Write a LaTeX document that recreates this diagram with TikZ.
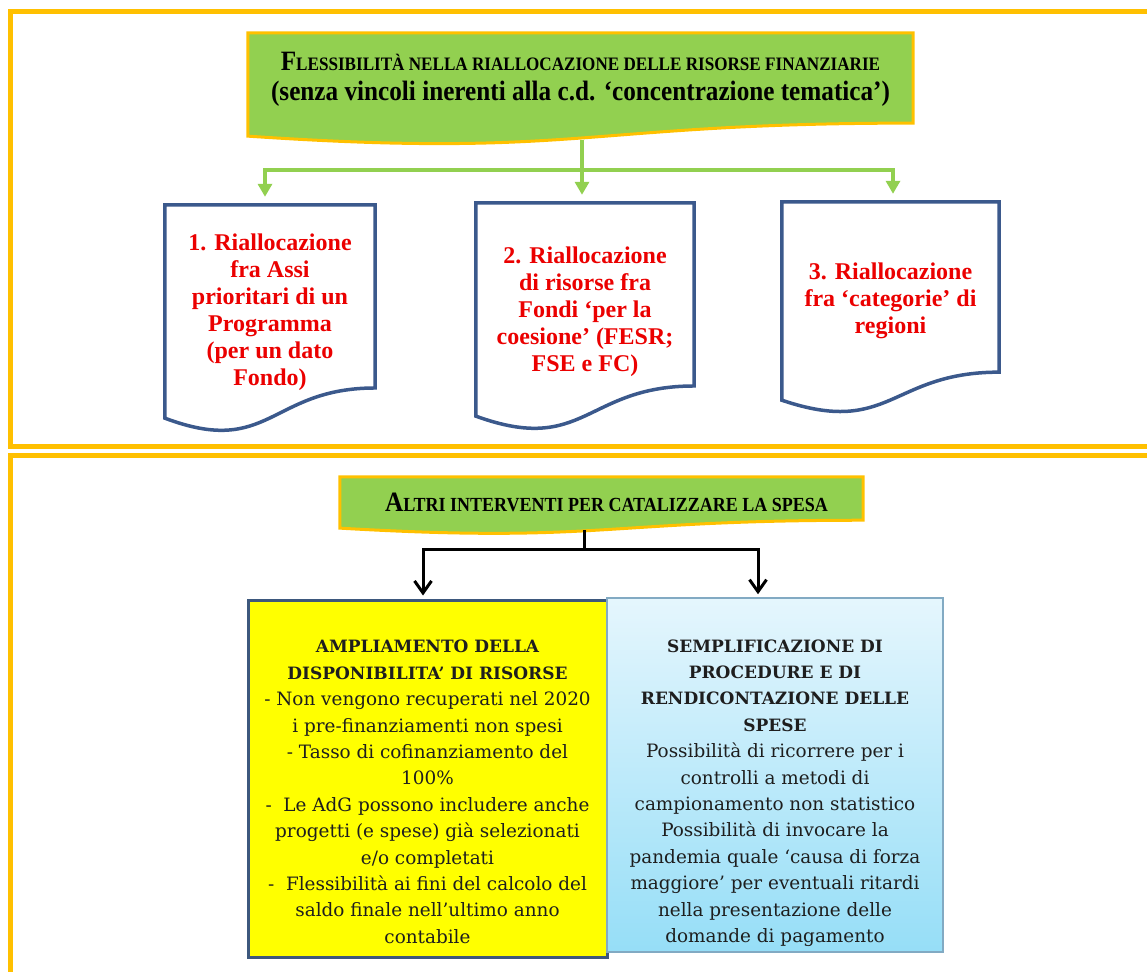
\documentclass[tikz,border=0pt]{standalone}
\usepackage{fontspec}
\setmainfont{DejaVu Serif}
\newfontfamily\redfont{Liberation Serif}
\newfontfamily\hdrfont[FakeStretch=0.9]{Liberation Serif}
\usetikzlibrary{arrows.meta, calc, backgrounds}

\definecolor{framegold}{RGB}{255, 192, 0}
\definecolor{hdrgreen}{RGB}{146, 208, 80}
\definecolor{docblue}{RGB}{59, 89, 140}
\definecolor{docred}{RGB}{235, 0, 0}
\definecolor{amplyellow}{RGB}{255, 255, 0}
\definecolor{amplborder}{RGB}{61, 88, 125}
\definecolor{skytop}{RGB}{229, 246, 253}
\definecolor{skybot}{RGB}{150, 222, 247}
\definecolor{skyborder}{RGB}{130, 170, 195}
\definecolor{bodyink}{RGB}{30, 30, 30}

% outline with a wavy bottom: node, right end, control depth, left end, style
\newcommand{\wavebottom}[5]{%
  \draw[#5] (#1.north west) -- (#1.north east)
    -- ($(#1.north east)!#2!(#1.south east)$)
    .. controls ($(#1.north)!#2!(#1.south)$) and ($(#1.north)!#3!(#1.south)$)
    .. ($(#1.north west)!#4!(#1.south west)$) -- cycle;}
% big initial, small capitals
\newcommand{\capsc}[3][19]{{\fontsize{28}{30}\selectfont #2}{\fontsize{#1}{30}\selectfont #3}}
\newcommand{\hd}[1]{{\bfseries\fontsize{17}{26.4}\selectfont #1}}

\tikzset{
  goldframe/.style={draw=framegold, line width=5pt},
  shapebox/.style={rectangle, inner sep=0pt},
  hdrtext/.style={font={\hdrfont\bfseries\fontsize{28}{30}\selectfont}, align=center},
  hdrfill/.style={fill=hdrgreen, draw=framegold, line width=3pt},
  doctext/.style={font={\redfont\bfseries\fontsize{24}{27}\selectfont}, text=docred, align=center},
  docline/.style={draw=docblue, fill=white, line width=3.5pt},
  bodytext/.style={font={\fontsize{18.4}{26.4}\selectfont}, text=bodyink, align=center},
  greenarrow/.style={draw=hdrgreen, line width=4pt, shorten <=-3pt, shorten >=8pt,
    -{Triangle[width=14pt, length=13pt]}},
  blackarrow/.style={draw=black, line width=3pt, shorten <=-3pt, shorten >=3pt,
    -{Straight Barb[width=17pt, length=12pt]}}
}

\begin{document}
\begin{tikzpicture}[x=1pt, y=-1pt]
  \useasboundingbox (0,0) rectangle (1147,971);

  % frames
  \draw[goldframe] (10,12) rectangle (1165,446);
  \draw[goldframe] (10,455) rectangle (1165,975);

  % flessibilita
  \node[shapebox, minimum width=665, minimum height=110,
    label={[hdrtext, yshift=9pt]center:{\capsc{F}{LESSIBILITÀ NELLA RIALLOCAZIONE DELLE RISORSE FINANZIARIE}\\(senza vincoli inerenti alla c.d. ‘concentrazione tematica’)}}] (flex) at (580.5,88) {};

  \node[shapebox, minimum width=210, minimum height=228,
    label={[doctext, yshift=7pt]center:{1. Riallocazione\\fra Assi\\prioritari di un\\Programma\\(per un dato\\Fondo)}}] (riall1) at (270,319) {};
  \node[shapebox, minimum width=218, minimum height=228,
    label={[doctext, yshift=5pt]center:{2. Riallocazione\\di risorse fra\\Fondi ‘per la\\coesione’ (FESR;\\FSE e FC)}}] (riall2) at (585,317) {};
  \node[shapebox, minimum width=217, minimum height=212,
    label={[doctext, yshift=7pt]center:{3. Riallocazione\\fra ‘categorie’ di\\regioni}}] (riall3) at (890.5,308) {};

  % altri interventi
  \node[shapebox, minimum width=523, minimum height=56,
    label={[hdrtext, yshift=3pt, xshift=5pt]center:{\capsc[20]{A}{LTRI INTERVENTI PER CATALIZZARE LA SPESA}}}] (altri) at (601.5,505) {};

  \node[shapebox, fill=amplyellow, draw=amplborder, line width=3pt, minimum width=359, minimum height=357,
    label={[bodytext, yshift=-13.5pt]center:{\hd{AMPLIAMENTO DELLA}\\\hd{DISPONIBILITA’ DI RISORSE}\\- Non vengono recuperati nel 2020\\i pre-finanziamenti non spesi\\- Tasso di cofinanziamento del\\100\%\\-\ \ Le AdG possono includere anche\\progetti (e spese) già selezionati\\e/o completati\\-\ \ Flessibilità ai fini del calcolo del\\saldo finale nell’ultimo anno\\contabile}}] (ampl) at (427.5,778.5) {};
  \node[shapebox, top color=skytop, bottom color=skybot, draw=skyborder, line width=1.5pt, minimum width=336, minimum height=354,
    label={[bodytext, yshift=-18pt]center:{\hd{SEMPLIFICAZIONE DI}\\\hd{PROCEDURE E DI}\\\hd{RENDICONTAZIONE DELLE}\\\hd{SPESE}\\Possibilità di ricorrere per i\\controlli a metodi di\\campionamento non statistico\\Possibilità di invocare la\\pandemia quale ‘causa di forza\\maggiore’ per eventuali ritardi\\nella presentazione delle\\domande di pagamento}}] (sempl) at (775,775) {};

  \begin{scope}[on background layer]
    \wavebottom{flex}{0.818}{1.14}{0.936}{hdrfill}
    \wavebottom{altri}{0.77}{1.18}{0.91}{hdrfill}
    \wavebottom{riall1}{0.802}{1.1075}{0.934}{docline}
    \wavebottom{riall2}{0.802}{1.1075}{0.934}{docline}
    \wavebottom{riall3}{0.802}{1.1075}{0.934}{docline}
  \end{scope}

  % connectors
  \coordinate (gmid) at (582,170);
  \coordinate (gl) at (265,170);
  \coordinate (gr) at (893,170);
  \draw[greenarrow] (flex.south -| gmid) -- (gmid |- riall2.north);
  \draw[greenarrow] (flex.south -| gmid) |- (gl) -- (gl |- riall1.north);
  \draw[greenarrow] (flex.south -| gmid) |- (gr) -- (gr |- riall3.north);

  \coordinate (kmid) at (584,549);
  \coordinate (kl) at (423,549);
  \coordinate (kr) at (758,549);
  \draw[blackarrow] (altri.south -| kmid) |- (kl) -- (kl |- ampl.north);
  \draw[blackarrow] (altri.south -| kmid) |- (kr) -- (kr |- sempl.north);
\end{tikzpicture}
\end{document}
